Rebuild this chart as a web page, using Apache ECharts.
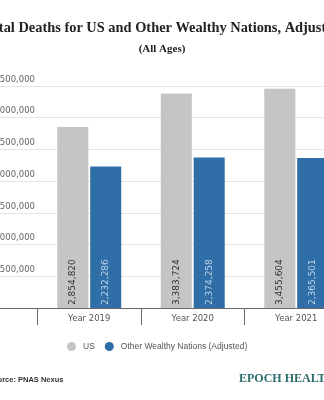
<!DOCTYPE html>
<html>
<head>
<meta charset="utf-8">
<script src="https://cdn.jsdelivr.net/npm/echarts@6/dist/echarts.min.js"></script>
<style>
html,body{margin:0;padding:0;background:#fff;}
#c{width:324px;height:400px;}
</style>
</head>
<body>
<div id="c"></div>
<script>
var categories = ['', 'Year 2019', 'Year 2020', 'Year 2021'];
var usDeaths = [null, 2854820, 3383724, 3455604];
var otherDeaths = [null, 2232286, 2374258, 2365501];
var seriesNames = ['US', 'Other Wealthy Nations (Adjusted)'];
var yTicks = [0, 500000, 1000000, 1500000, 2000000, 2500000, 3000000, 3500000];

var chart = echarts.init(document.getElementById('c'), null, {renderer: 'canvas'});
function fmt(v){ return v.toLocaleString('en-US'); }
var labelFont = 'DejaVu Sans';
chart.setOption({
  animation: false,
  backgroundColor: '#ffffff',
  title: [
    {
      text: 'Total Deaths for US and Other Wealthy Nations, Adjusted',
      subtext: '(All Ages)',
      left: 'center',
      top: 21,
      padding: 0,
      itemGap: 9,
      textStyle: {fontFamily: 'Liberation Serif', fontWeight: 'bold', fontSize: 14.4, color: '#222'},
      subtextStyle: {fontFamily: 'Liberation Serif', fontWeight: 'bold', fontSize: 11, color: '#222'}
    },
    {
      text: 'Source: PNAS Nexus',
      left: -12,
      top: 376,
      padding: 0,
      textStyle: {fontFamily: 'Liberation Sans', fontWeight: 'bold', fontSize: 7.5, color: '#333'}
    },
    {
      text: 'EPOCH HEALTH',
      left: 239,
      top: 373,
      padding: 0,
      textStyle: {fontFamily: 'Liberation Serif', fontWeight: 'bold', fontSize: 12, color: '#2d6c6c'}
    }
  ],
  legend: {
    left: 67,
    top: 342,
    padding: 0,
    itemWidth: 9,
    itemHeight: 9,
    itemGap: 10,
    icon: 'circle',
    textStyle: {fontFamily: 'Liberation Sans', fontSize: 8.5, color: '#555', padding: [0, 0, 0, 2]},
    data: seriesNames
  },
  grid: {left: -66, right: -24, top: 86, bottom: 92, containLabel: false, outerBoundsMode: 'none'},
  xAxis: {
    type: 'category',
    data: categories,
    axisLine: {lineStyle: {color: '#666', width: 1}},
    axisTick: {show: true, length: 17, lineStyle: {color: '#666'}},
    axisLabel: {fontFamily: labelFont, fontSize: 8.5, color: '#555', margin: 6}
  },
  yAxis: {
    type: 'value',
    min: yTicks[0],
    max: yTicks[yTicks.length - 1],
    interval: yTicks[1] - yTicks[0],
    axisLine: {show: false},
    axisTick: {show: false},
    splitLine: {lineStyle: {color: '#e4e4e4', width: 1}},
    axisLabel: {
      inside: true,
      margin: 101,
      align: 'right',
      verticalAlign: 'bottom',
      padding: [0, 0, 2, 0],
      fontFamily: labelFont,
      fontSize: 8.5,
      color: '#666',
      showMinLabel: false,
      formatter: function(v){ return v === 0 ? '' : fmt(v); }
    }
  },
  series: [
    {
      name: seriesNames[0],
      type: 'bar',
      data: usDeaths,
      barWidth: '30%',
      barGap: '6%',
      itemStyle: {color: '#c6c4c4'},
      label: {
        show: true,
        position: 'insideBottom',
        rotate: 90,
        align: 'left',
        verticalAlign: 'middle',
        distance: 3,
        fontFamily: labelFont,
        fontSize: 9,
        color: '#333',
        formatter: function(p){ return fmt(p.value); }
      }
    },
    {
      name: seriesNames[1],
      type: 'bar',
      data: otherDeaths,
      barWidth: '30%',
      itemStyle: {color: '#2f6ea7'},
      label: {
        show: true,
        position: 'insideBottom',
        rotate: 90,
        align: 'left',
        verticalAlign: 'middle',
        distance: 3,
        fontFamily: labelFont,
        fontSize: 9,
        color: '#b9d3ea',
        formatter: function(p){ return fmt(p.value); }
      }
    }
  ]
});
</script>
</body>
</html>
